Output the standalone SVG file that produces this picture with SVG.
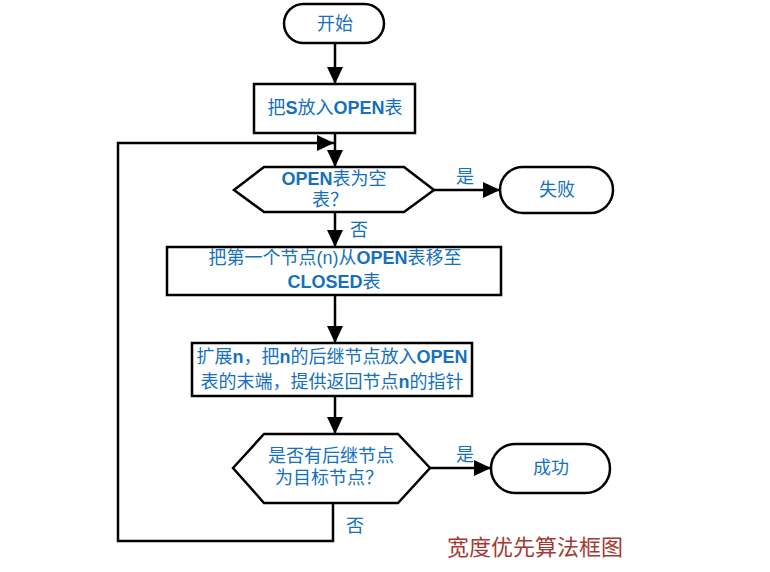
<svg xmlns="http://www.w3.org/2000/svg" width="770" height="572" viewBox="0 0 770 572">
<style>
.shape{fill:#fff;stroke:#000;stroke-width:2.5}
.conn{fill:none;stroke:#000;stroke-width:2.5}
.t{font-family:"Liberation Sans","Noto Sans CJK SC",sans-serif;font-size:18px;fill:#1570c0;text-anchor:middle;dominant-baseline:central}
.b{font-weight:bold}
.cap{font-family:"Liberation Serif","Noto Sans CJK SC",serif;font-size:22px;fill:#a33a35;text-anchor:middle;dominant-baseline:central}
</style>
<defs>
<marker id="arr" markerUnits="userSpaceOnUse" markerWidth="18" markerHeight="16" refX="17" refY="8" orient="auto">
<path d="M0,0 L17,8 L0,16 Z" fill="#000"/>
</marker>
</defs>
<rect width="770" height="572" fill="#fff"/>
<g id="connectors">
<line class="conn" x1="335" y1="43" x2="335" y2="84" marker-end="url(#arr)"/>
<line class="conn" x1="335" y1="133" x2="335" y2="167" marker-end="url(#arr)"/>
<line class="conn" x1="434" y1="190" x2="500" y2="190" marker-end="url(#arr)"/>
<line class="conn" x1="335" y1="212" x2="335" y2="247" marker-end="url(#arr)"/>
<line class="conn" x1="335" y1="295" x2="335" y2="343" marker-end="url(#arr)"/>
<line class="conn" x1="335" y1="396" x2="335" y2="434" marker-end="url(#arr)"/>
<line class="conn" x1="430" y1="468" x2="491" y2="468" marker-end="url(#arr)"/>
<polyline class="conn" points="333,503 333,541 118,541 118,143 334,143" marker-end="url(#arr)"/>
<text class="t" x="465" y="177">是</text>
<text class="t" x="359" y="230">否</text>
<text class="t" x="465" y="455">是</text>
<text class="t" x="355" y="526">否</text>
</g>
<g id="start">
<rect class="shape" x="284" y="4" width="100" height="39" rx="19.5"/>
<text class="t" x="335" y="24">开始</text>
</g>
<g id="init">
<rect class="shape" x="254" y="84" width="161" height="49"/>
<text class="t" x="335" y="108">把<tspan class="b">S</tspan>放入<tspan class="b">OPEN</tspan>表</text>
</g>
<g id="empty">
<polygon class="shape" points="234,190 264,167 404,167 434,190 404,212 264,212"/>
<text class="t" x="334" y="179"><tspan class="b">OPEN</tspan>表为空</text>
<text class="t" x="330" y="200">表？</text>
</g>
<g id="fail">
<rect class="shape" x="500" y="167" width="113" height="46" rx="23"/>
<text class="t" x="557" y="190">失败</text>
</g>
<g id="move">
<rect class="shape" x="167" y="247" width="334" height="48"/>
<text class="t" x="335" y="258">把第一个节点(n)从<tspan class="b">OPEN</tspan>表移至</text>
<text class="t" x="334" y="282"><tspan class="b">CLOSED</tspan>表</text>
</g>
<g id="expand">
<rect class="shape" x="192" y="343" width="280" height="53"/>
<text class="t" x="332" y="357">扩展<tspan class="b">n</tspan>，把<tspan class="b">n</tspan>的后继节点放入<tspan class="b">OPEN</tspan></text>
<text class="t" x="332" y="382">表的末端，提供返回节点<tspan class="b">n</tspan>的指针</text>
</g>
<g id="goal">
<polygon class="shape" points="233,468 264,434 398,434 430,468 398,503 264,503"/>
<text class="t" x="331" y="456">是否有后继节点</text>
<text class="t" x="329" y="478">为目标节点？</text>
</g>
<g id="success">
<rect class="shape" x="491" y="444" width="119" height="49" rx="24.5"/>
<text class="t" x="551" y="468">成功</text>
</g>
<text class="cap" x="535" y="547">宽度优先算法框图</text>
</svg>
